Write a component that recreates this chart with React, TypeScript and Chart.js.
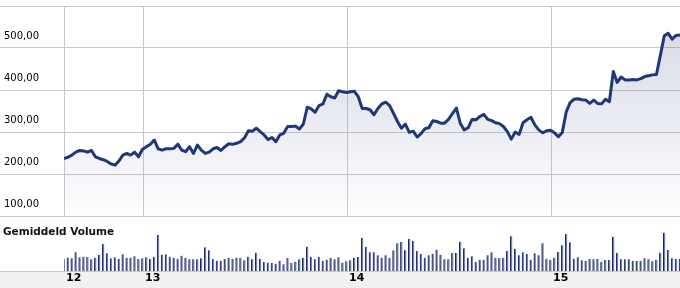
import React, { useEffect, useRef } from 'react';
import { Chart, registerables } from 'chart.js';

Chart.register(...registerables);

// First weekly observation as a decimal year; one point per week.
const firstWeek = 2012.6127;
const weeksPerYear = 52;

// Weekly closing price
const prices = [
  237, 240, 245, 252, 256, 255, 252, 256, 241, 237,
  234, 230, 224, 221, 231, 245, 249, 245, 252, 241,
  259, 265, 271, 281, 260, 257, 260, 260, 261, 271,
  257, 253, 265, 249, 269, 257, 249, 252, 260, 263,
  256, 265, 272, 271, 273, 277, 286, 303, 302, 309,
  301, 293, 282, 287, 277, 293, 297, 313, 313, 314,
  307, 319, 359, 355, 347, 363, 367, 390, 384, 381,
  398, 396, 394, 396, 397, 384, 356, 356, 353, 341,
  356, 367, 371, 363, 344, 325, 309, 319, 299, 302,
  288, 296, 308, 310, 327, 325, 321, 321, 330, 344,
  357, 321, 305, 310, 330, 329, 337, 342, 330, 327,
  322, 320, 313, 301, 283, 300, 294, 322, 329, 335,
  317, 305, 298, 303, 304, 298, 289, 299, 348, 370,
  378, 379, 377, 376, 368, 376, 368, 367, 378, 372,
  444, 418, 431, 424, 424, 425, 424, 427, 432, 434,
  436, 437, 483, 529, 535, 521, 530, 531,
];

// Weekly average volume (arbitrary units)
const volumes = [
  12, 13.5, 12.7, 18.7, 13.7, 14.3, 14, 11.7, 13.3, 16,
  27, 17.7, 12.7, 13.7, 12, 16.7, 13.3, 13.3, 14.7, 12,
  12.7, 13.7, 12, 14.3, 36, 16.3, 16.7, 14.3, 13.3, 12,
  15.3, 13.3, 11.7, 11.7, 11.7, 12.7, 23.7, 20.7, 12, 10.3,
  10.3, 12, 13.3, 12, 13.3, 13.3, 10.7, 14.3, 11.7, 18.3,
  12.3, 9, 8.3, 8, 7.3, 10.3, 6.7, 13, 8, 9.3,
  11.7, 13.3, 24.3, 14.3, 11.7, 14.3, 10, 11.3, 13, 11.7,
  13.7, 8.3, 9.7, 10.7, 13.3, 14, 33.3, 24.3, 18.7, 18.7,
  15.7, 13.3, 15.7, 13.3, 20.7, 27.7, 29, 20.7, 32, 30,
  20, 17, 13.3, 15.7, 17.3, 21.3, 16.3, 11.7, 11.7, 18,
  18, 29.3, 22.7, 13.3, 14.7, 9, 11.3, 11.3, 15.7, 18.7,
  13.3, 13, 13.3, 20, 34.7, 22.3, 15.7, 18.7, 17, 11.3,
  17.7, 15.7, 27.7, 12.3, 11.3, 13.3, 19, 25.7, 37, 28.7,
  12.3, 13.7, 10.7, 10, 12, 11.7, 12, 9.3, 11, 11,
  34.3, 18, 11.7, 11.7, 11.7, 10, 10, 10, 12.7, 11.7,
  9.7, 11.3, 18.3, 38.3, 21, 12.7, 12, 12,
];

const yearTickValues = [firstWeek, 2013, 2014, 2015];
const yearTickLabels = ['12', '13', '14', '15'];
const priceMin = 100;
const priceMax = 600;
const priceStep = 100;
const volumeTitle = 'Gemiddeld Volume';

const gridColor = '#c8c8c8';

const bandPlugin = {
  id: 'bottomBand',
  beforeDraw(chart: any) {
    const { ctx, chartArea, width, height } = chart;
    ctx.save();
    ctx.fillStyle = '#f1f1f1';
    ctx.fillRect(0, chartArea.bottom, width, height - chartArea.bottom);
    ctx.fillStyle = gridColor;
    ctx.fillRect(0, chartArea.bottom, width, 1);
    ctx.restore();
  },
};

export default function App() {
  const priceRef = useRef<HTMLCanvasElement>(null);
  const volRef = useRef<HTMLCanvasElement>(null);

  useEffect(() => {
    const xs = prices.map((_, i) => firstWeek + i / weeksPerYear);
    const xMin = xs[0];
    const xMax = xs[xs.length - 1];

    const priceChart = new Chart(priceRef.current as HTMLCanvasElement, {
      type: 'line',
      data: {
        datasets: [
          {
            data: prices.map((p, i) => ({ x: xs[i], y: p })),
            borderColor: '#1f3876',
            borderWidth: 3,
            pointRadius: 0,
            tension: 0,
            borderJoinStyle: 'round',
            fill: 'start',
            backgroundColor: (ctx: any) => {
              const { chart } = ctx;
              const area = chart.chartArea;
              if (!area) return 'rgba(120,130,175,0.15)';
              const g = chart.ctx.createLinearGradient(0, area.top, 0, area.bottom);
              g.addColorStop(0, 'rgba(120,130,175,0.32)');
              g.addColorStop(1, 'rgba(120,130,175,0.01)');
              return g;
            },
          },
        ],
      },
      options: {
        animation: false,
        responsive: false,
        events: [],
        layout: { padding: { top: 6, left: 0, right: 0, bottom: 0 } },
        plugins: { legend: { display: false }, tooltip: { enabled: false } },
        scales: {
          x: {
            type: 'linear',
            min: xMin,
            max: xMax,
            afterBuildTicks: (s: any) => {
              s.ticks = yearTickValues.slice(1).map((v) => ({ value: v }));
            },
            ticks: { display: false },
            grid: { color: gridColor, drawTicks: false, lineWidth: 1 },
            border: { display: false },
            afterFit: (s: any) => {
              s.height = 1;
            },
          },
          y: {
            min: priceMin,
            max: priceMax,
            ticks: {
              stepSize: priceStep,
              padding: -39,
              crossAlign: 'near',
              labelOffset: -12,
              color: '#000',
              font: { family: 'DejaVu Sans', size: 10 },
              callback: (v: any) => (Number(v) === priceMax ? '' : Number(v).toFixed(2).replace('.', ',')),
            },
            grid: { color: gridColor, tickLength: 64, drawTicks: true, tickColor: gridColor },
            border: { display: true, color: gridColor },
            afterFit: (s: any) => {
              s.width = 64;
            },
          },
        },
      } as any,
    });

    const volChart = new Chart(volRef.current as HTMLCanvasElement, {
      type: 'bar',
      data: {
        datasets: [
          {
            data: volumes.map((v, i) => ({ x: xs[i], y: v })),
            backgroundColor: '#7481ab',
            borderColor: '#14265e',
            borderWidth: { left: 1, right: 0, top: 0, bottom: 0 },
            borderSkipped: false,
            barThickness: 2,
          } as any,
        ],
      },
      options: {
        animation: false,
        responsive: false,
        events: [],
        layout: { padding: { top: 14, left: 0, right: 0, bottom: 0 } },
        plugins: { legend: { display: false }, tooltip: { enabled: false } },
        scales: {
          x: {
            type: 'linear',
            min: xMin,
            max: xMax,
            offset: false,
            afterBuildTicks: (s: any) => {
              s.ticks = yearTickValues.map((v) => ({ value: v }));
            },
            ticks: {
              align: 'start',
              labelOffset: 2,
              padding: 1,
              autoSkip: false,
              maxRotation: 0,
              color: '#000',
              font: { family: 'DejaVu Sans', size: 11, weight: 'bold' },
              callback: (_v: any, i: number) => yearTickLabels[i],
            },
            grid: { display: false, drawTicks: false, offset: false },
            border: { display: false },
            afterFit: (s: any) => {
              s.height = 17;
            },
          },
          y: {
            min: 0,
            max: 40,
            ticks: { display: false },
            grid: { display: false, drawTicks: false },
            border: { display: false },
            afterFit: (s: any) => {
              s.width = 64;
            },
          },
        },
      } as any,
      plugins: [bandPlugin],
    });

    return () => {
      priceChart.destroy();
      volChart.destroy();
    };
  }, []);

  return (
    <div
      style={{
        position: 'fixed',
        left: 0,
        top: 0,
        width: 680,
        height: 288,
        background: '#fff',
        overflow: 'hidden',
      }}
    >
      <canvas ref={priceRef} width={680} height={217} style={{ position: 'absolute', left: 0, top: 0 }} />
      <canvas ref={volRef} width={680} height={71} style={{ position: 'absolute', left: 0, top: 217 }} />
      <div
        style={{
          position: 'absolute',
          left: 3,
          top: 224,
          fontFamily: 'DejaVu Sans',
          fontWeight: 'bold',
          fontSize: '10.5px',
          lineHeight: '14px',
          color: '#111',
          whiteSpace: 'nowrap',
        }}
      >
        {volumeTitle}
      </div>
    </div>
  );
}
